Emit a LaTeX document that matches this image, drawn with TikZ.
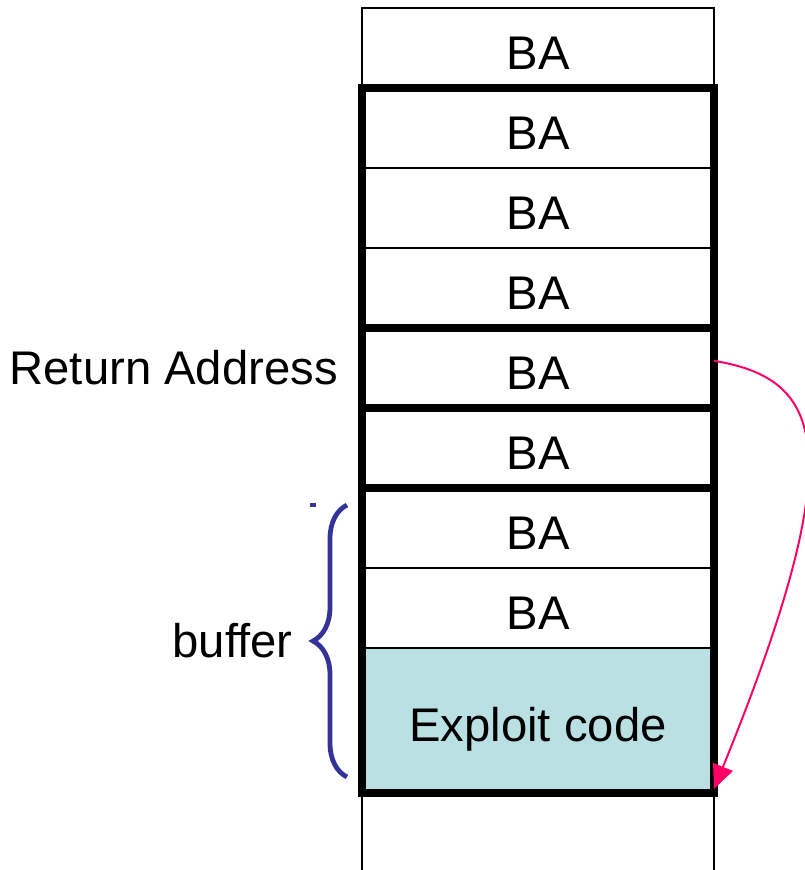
\documentclass[tikz,border=0pt]{standalone}
\usepackage{fontspec}
\setmainfont{Liberation Sans}
\usetikzlibrary{arrows.meta,positioning,decorations.pathreplacing}

\definecolor{exploitfill}{HTML}{BBE0E3}
\definecolor{jumppink}{HTML}{FF0066}
\definecolor{braceblue}{HTML}{333399}

\begin{document}
\begin{tikzpicture}[>={Triangle[length=17pt,width=15pt]},node distance=0pt,
  every node/.style={font=\fontsize{33.6}{40}\selectfont},
  cell/.style={draw,line width=1.1pt,outer sep=0pt,inner sep=0pt,minimum width=8.8cm,minimum height=2cm,
    text height=1.05cm,text depth=0pt},
  frame/.style={line width=5pt},
  lbl/.style={inner sep=0pt}]

\useasboundingbox (0,0) rectangle (20.125,-21.75);
\clip (0,0) rectangle (20.125,-21.75);

% the stack, top to bottom
\node[cell]   (c1) at (13.45,-1.2) {BA};
 \node[cell]  (c2) [below=of c1] {BA};
 \node[cell]  (c3) [below=of c2] {BA};
 \node[cell]  (c4) [below=of c3] {BA};
 \node[cell]  (c5) [below=of c4] {BA};
 \node[cell]  (c6) [below=of c5] {BA};
 \node[cell]  (c7) [below=of c6] {BA};
 \node[cell]  (c8) [below=of c7] {BA};
 \node[cell,fill=exploitfill,minimum height=3.625cm] (c9) [below=of c8] {Exploit code};
 \node[cell]  (c10) [below=of c9] {};

% heavy outlines
\draw[frame] (c2.north west) rectangle (c4.south east);
\draw[frame] (c5.north west) rectangle (c5.south east);
\draw[frame] (c6.north west) rectangle (c6.south east);
\draw[frame] (c7.north west) rectangle (c9.south east);

\node[lbl] (ret) [left=0.6cm of c5] {Return Address};

% buffer brace
\draw[braceblue,line width=3.4pt,decorate,decoration={brace,amplitude=0.85cm}]
	([xshift=-0.375cm,yshift=0.4cm]c9.south west) -- ([xshift=-0.375cm,yshift=-0.425cm]c7.north west)
	node[lbl,black,midway,left=1.3cm] (buf) {buffer};
\fill[braceblue] (7.75,-12.575) rectangle ++(0.15,-0.1);

% overwritten return address jumps into the buffer
\draw[->,jumppink,line width=1.4pt] ([yshift=0.18cm]c5.east)
	.. controls +(2.7,-0.45) and +(3.5,8.6) .. ([yshift=0.1cm]c9.south east);

\end{tikzpicture}
\end{document}
